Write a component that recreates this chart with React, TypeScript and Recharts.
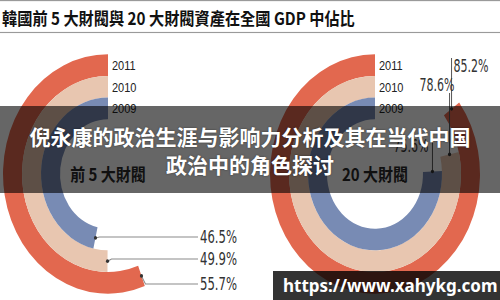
import { PieChart, Pie, Cell } from "recharts";

const years = ["2011", "2010", "2009"];
const groupNames = ["前 5 大財閥", "20 大財閥"];
const top5Share = [55.7, 49.9, 46.5];
const top20Share = [85.2, 78.6, 75.6];
const title = "韓國前 5 大財閥與 20 大財閥資產在全國 GDP 中佔比";
const overlayLines = ["倪永康的政治生涯与影响力分析及其在当代中国", "政治中的角色探讨"];
const watermark = "https://www.xahykg.com";

const ringColors = ["#e2684f", "#e8c6b0", "#788bb4"];
// inner / outer radius per ring (2011 outside, 2009 inside)
const ringRadii = [
  [86, 105],
  [67, 86],
  [48, 67],
];
const groupCx = [108, 375];
const CY = 152.6;
const STRETCH = 1.14; // the source picture is taller than wide
const W = 500;
const H = 300 / STRETCH;
const RAD = Math.PI / 180;
const pctFont = '"Liberation Sans Narrow", "DejaVu Sans Condensed", sans-serif';

// label rows, pre-stretch px
const leftLabelY = [249.1, 227.2, 207.9];
const rightLayout = [
  { lineTop: 50.9, dx: 2, y: 57.9, anchor: "start" },
  { lineTop: 81.6, dx: 5, y: 74.6, anchor: "end" },
  { lineTop: 116.7, dx: -4, y: 128.1, anchor: "end" },
];

function makeLabel(group: number, ring: number, share: number) {
  return (p: any) => {
    if (p.index !== 0) return null;
    const midR = (p.innerRadius + p.outerRadius) / 2;
    const ex = p.cx + midR * Math.cos(p.endAngle * RAD);
    const ey = p.cy - midR * Math.sin(p.endAngle * RAD);
    const sx = p.cx + midR * Math.cos(p.startAngle * RAD);
    const sy = p.cy - midR * Math.sin(p.startAngle * RAD);
    const pct = `${share}%`;
    let lead;
    if (group === 0) {
      const ly = leftLabelY[ring];
      lead = (
        <g>
          <polyline points={`${ex},${ey} ${ex + 4},${ly} 198,${ly}`} fill="none" stroke="#8a8a8a" strokeWidth={1} />
          <text x={200} y={ly} dominantBaseline="central" fontSize={16} fill="#333"
            fontFamily={pctFont} textLength={37} lengthAdjust="spacingAndGlyphs">
            {pct}
          </text>
        </g>
      );
    } else {
      const l = rightLayout[ring];
      lead = (
        <g>
          <line x1={ex} y1={ey} x2={ex} y2={l.lineTop} stroke="#555" strokeWidth={1} />
          <text x={ex + l.dx} y={l.y} dominantBaseline="central" textAnchor={l.anchor as any}
            fontSize={16} fill="#333" fontFamily={pctFont} textLength={35} lengthAdjust="spacingAndGlyphs">
            {pct}
          </text>
        </g>
      );
    }
    return (
      <g>
        {lead}
        <circle cx={ex} cy={ey} r={1.6} fill="#333" />
        <text x={sx + 4} y={sy} dominantBaseline="central" fontSize={11} fill="#222"
          fontFamily='"Liberation Sans", Arial, sans-serif'>
          {years[ring]}
        </text>
        {ring === 2 && (
          <text x={p.cx} y={p.cy} textAnchor="middle" dominantBaseline="central" fontSize={15}
            fontWeight="bold" fill="#2a2a2a" fontFamily='"Noto Sans CJK TC", sans-serif'>
            {groupNames[group]}
          </text>
        )}
      </g>
    );
  };
}

export default function App() {
  const groups = [top5Share, top20Share];
  return (
    <div style={{ position: "absolute", left: 0, top: 0, width: 500, height: 300, overflow: "hidden", background: "#fff" }}>
      <div style={{ position: "absolute", left: 0, top: 0, width: W, height: H, transform: `scaleY(${STRETCH})`, transformOrigin: "0 0" }}>
        <div style={{
          position: "absolute", left: 0, top: 0, width: W, height: 27,
          borderTop: "1px solid #9a9a9a", borderBottom: "1px solid #9a9a9a",
          display: "flex", alignItems: "center", paddingLeft: 2, boxSizing: "content-box",
          fontFamily: '"Noto Sans CJK TC", sans-serif', fontWeight: "bold", fontSize: 15.2, color: "#111",
          whiteSpace: "nowrap",
        }}>
          {title}
        </div>
        <PieChart width={W} height={H} margin={{ top: 0, right: 0, bottom: 0, left: 0 }}>
          {groups.map((shares, g) =>
            shares.map((v, r) => (
              <Pie
                key={`${g}-${r}`}
                data={[{ name: years[r], value: v }, { name: "rest", value: 100 - v }]}
                dataKey="value"
                cx={groupCx[g]}
                cy={CY}
                innerRadius={ringRadii[r][0]}
                outerRadius={ringRadii[r][1]}
                startAngle={90}
                endAngle={450}
                stroke="none"
                labelLine={false}
                label={makeLabel(g, r, v)}
                isAnimationActive={false}
              >
                <Cell fill={ringColors[r]} />
                <Cell fill="none" />
              </Pie>
            ))
          )}
        </PieChart>
      </div>
      <div style={{
        position: "absolute", left: 0, top: 106, width: 500, height: 87, background: "rgba(0,0,0,0.6)",
      }} />
      <div style={{
        position: "absolute", left: 0, top: 122, width: 500, textAlign: "center", color: "#fff",
        fontFamily: '"Noto Sans CJK SC", sans-serif', fontWeight: "bold", fontSize: 21, lineHeight: "28px",
        textShadow: "0 0 2px rgba(0,0,0,0.5)",
      }}>
        {overlayLines.map((t) => (
          <div key={t}>{t}</div>
        ))}
      </div>
      <div style={{
        position: "absolute", left: 273, top: 271, width: 227, height: 29, background: "rgba(0,0,0,0.8)",
        color: "#fff", fontFamily: '"Noto Sans", sans-serif', fontWeight: "bold", fontSize: 17,
        lineHeight: "29px", paddingLeft: 10, boxSizing: "border-box", whiteSpace: "nowrap",
      }}>
        {watermark}
      </div>
    </div>
  );
}
